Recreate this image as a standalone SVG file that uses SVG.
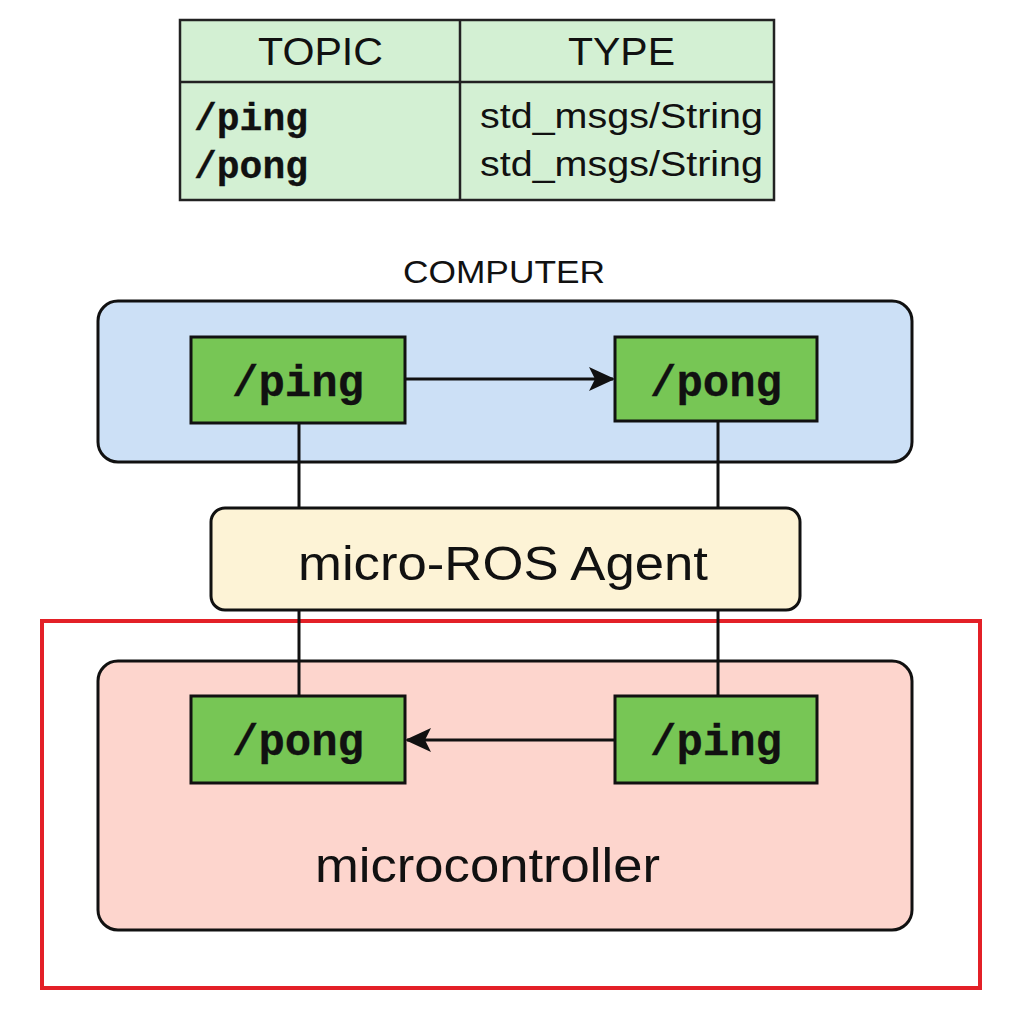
<svg xmlns="http://www.w3.org/2000/svg" width="1024" height="1024" viewBox="0 0 1024 1024">
<style>
.sans{font-family:"Liberation Sans","Inter",Arial,sans-serif;fill:#111}
.mono{font-family:"Liberation Mono","Courier New",monospace;font-weight:bold;fill:#111;stroke:#111;stroke-width:0.3}
.topic{fill:#77c655;stroke:#111;stroke-width:3}
.ln{stroke:#111;stroke-width:3;fill:none}
</style>
<defs>
<marker id="arr" viewBox="0 0 26 26" refX="24" refY="13" markerWidth="26" markerHeight="26" markerUnits="userSpaceOnUse" orient="auto">
<path d="M0,1 L26,13 L0,25 L6,13 z" fill="#111"/>
</marker>
</defs>
<rect width="1024" height="1024" fill="#fff"/>
<g id="table">
<rect x="180" y="20" width="594" height="180" fill="#d3f0d3" stroke="#222" stroke-width="2.5"/>
<line x1="180" y1="82" x2="774" y2="82" stroke="#222" stroke-width="2.5"/>
<line x1="460" y1="20" x2="460" y2="200" stroke="#222" stroke-width="2.5"/>
<text class="sans" x="258" y="65" font-size="38" textLength="125" lengthAdjust="spacingAndGlyphs">TOPIC</text>
<text class="sans" x="568" y="65" font-size="38" textLength="107" lengthAdjust="spacingAndGlyphs">TYPE</text>
<text class="mono" x="194" y="130" font-size="38">/ping</text>
<text class="mono" x="194" y="178" font-size="38">/pong</text>
<text class="sans" x="480" y="128" font-size="35" textLength="283" lengthAdjust="spacingAndGlyphs">std_msgs/String</text>
<text class="sans" x="480" y="176" font-size="35" textLength="283" lengthAdjust="spacingAndGlyphs">std_msgs/String</text>
</g>
<g id="outline">
<rect x="42" y="621" width="938" height="367" fill="none" stroke="#e32027" stroke-width="4"/>
</g>
<g id="computer">
<text class="sans" x="403" y="283" font-size="31" textLength="202" lengthAdjust="spacingAndGlyphs">COMPUTER</text>
<rect x="98" y="301" width="814" height="161" rx="20" fill="#cce0f6" stroke="#111" stroke-width="3"/>
</g>
<g id="microcontroller">
<rect x="98" y="661" width="814" height="269" rx="20" fill="#fdd5cd" stroke="#111" stroke-width="3"/>
<text class="sans" x="315" y="882" font-size="48" textLength="345" lengthAdjust="spacingAndGlyphs">microcontroller</text>
</g>
<g id="connectors">
<line class="ln" x1="299" y1="423" x2="299" y2="508"/>
<line class="ln" x1="718" y1="421" x2="718" y2="508"/>
<line class="ln" x1="299" y1="610" x2="299" y2="696"/>
<line class="ln" x1="718" y1="610" x2="718" y2="696"/>
<line class="ln" x1="405" y1="379" x2="613" y2="379" marker-end="url(#arr)"/>
<line class="ln" x1="615" y1="740" x2="407" y2="740" marker-end="url(#arr)"/>
</g>
<g id="agent">
<rect x="211" y="508" width="589" height="102" rx="14" fill="#fdf3d6" stroke="#111" stroke-width="3"/>
<text class="sans" x="298" y="580" font-size="48" textLength="410" lengthAdjust="spacingAndGlyphs">micro-ROS Agent</text>
</g>
<g id="comp-ping">
<rect class="topic" x="191" y="337" width="214" height="86"/>
<text class="mono" x="298" y="396" font-size="44" text-anchor="middle">/ping</text>
</g>
<g id="comp-pong">
<rect class="topic" x="615" y="337" width="202" height="84"/>
<text class="mono" x="716" y="396" font-size="44" text-anchor="middle">/pong</text>
</g>
<g id="mcu-pong">
<rect class="topic" x="191" y="696" width="214" height="87"/>
<text class="mono" x="298" y="755" font-size="44" text-anchor="middle">/pong</text>
</g>
<g id="mcu-ping">
<rect class="topic" x="615" y="696" width="202" height="87"/>
<text class="mono" x="716" y="755" font-size="44" text-anchor="middle">/ping</text>
</g>
</svg>
